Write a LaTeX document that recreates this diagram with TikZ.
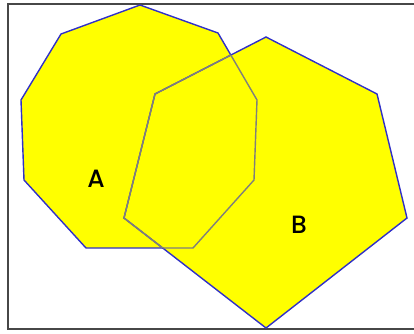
\documentclass[tikz,border=0pt]{standalone}
\usepackage{fontspec}
\setmainfont{Poppins}[UprightFont=* Medium]
\definecolor{edgeblue}{RGB}{48,48,200}
\definecolor{fillyellow}{RGB}{255,255,0}

\begin{document}
\begin{tikzpicture}[
  x=1pt, y=-1pt,
  font=\fontsize{25}{30}\selectfont,
  frame/.style={draw=black!72, line width=2pt},
  poly/.style={fill=fillyellow, draw=edgeblue, line width=1.4pt},
  hidden/.style={draw=edgeblue!62!fillyellow, line width=1.4pt},
  lab/.style={inner sep=0pt}
]
\useasboundingbox (0,0) rectangle (414,333);
\clip (0,0) rectangle (414,333);
\draw[frame] (8,4) rectangle (440,329);

% set A: nine corners, set B: six corners
\def\polyA{(140,5) -- (218,33) -- (257,100) -- (254,180) -- (193,248)
  -- (86,248) -- (24,180) -- (21,100) -- (61,34) -- cycle}
\def\polyB{(266,37) -- (377,94) -- (407,218) -- (266,328) -- (124,218)
  -- (155,94) -- cycle}

\path[poly] \polyA;
\path[poly] \polyB;

% outlines that run through the other set look dimmed
\begin{scope}
  \clip \polyB;
  \path[hidden] \polyA;
\end{scope}
\begin{scope}
  \clip \polyA;
  \path[hidden] \polyB;
\end{scope}

\node[lab] (labelA) at (96,179) {A};
\node[lab] (labelB) at (299,225) {B};
\end{tikzpicture}
\end{document}
